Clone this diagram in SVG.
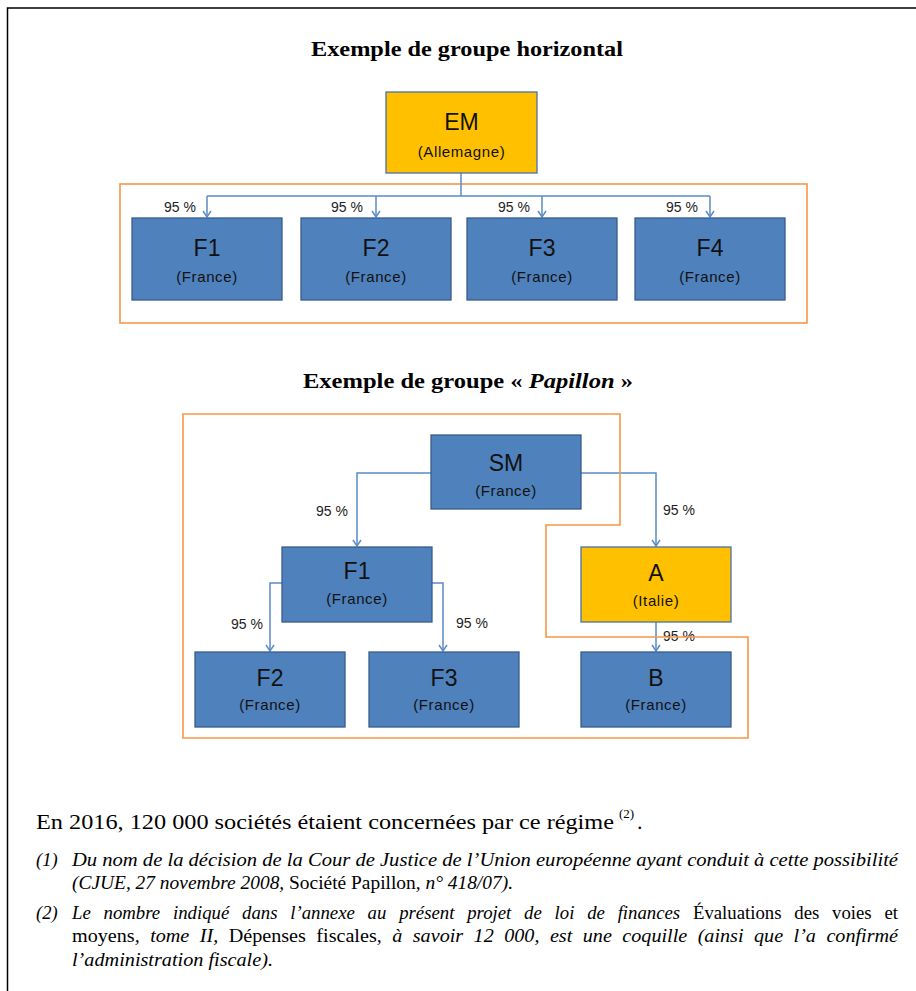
<svg xmlns="http://www.w3.org/2000/svg" width="916" height="991" viewBox="0 0 916 991">
<defs>
<style>
.blue{fill:#4F81BD;stroke:#385D8A;stroke-width:1.3}
.gold{fill:#FFC000;stroke:#4A72A8;stroke-width:1.3}
.name{font-family:"Liberation Sans",Arial,sans-serif;font-size:23px;fill:#111;text-anchor:middle}
.sub{font-family:"Liberation Sans",Arial,sans-serif;font-size:15px;letter-spacing:0.6px;fill:#111;text-anchor:middle}
.pct{font-family:"Liberation Sans",Arial,sans-serif;font-size:14px;fill:#222}
.conn{fill:none;stroke:#5B8BC6;stroke-width:1.5}
.frame{fill:none;stroke:#F79646;stroke-width:1.6}
.title{font-family:"Liberation Serif","Times New Roman",serif;font-weight:bold;font-size:22px;fill:#000;text-anchor:start}
.body{font-family:"Liberation Serif","Times New Roman",serif;font-size:22px;fill:#000}
.sup{font-family:"Liberation Serif","Times New Roman",serif;font-size:13px;fill:#000}
.note{font-family:"Liberation Serif","Times New Roman",serif;font-size:18.5px;font-style:italic;fill:#000}
.rom{font-style:normal}
</style>
<marker id="arr" markerWidth="10" markerHeight="10" refX="8" refY="5" orient="auto" markerUnits="userSpaceOnUse">
<path d="M2,1 L8,5 L2,9" fill="none" stroke="#5B8BC6" stroke-width="1.5"/>
</marker>
</defs>
<rect width="916" height="991" fill="#fff"/>
<path d="M916,8 H7.5 V991" fill="none" stroke="#000" stroke-width="1.5"/>

<text class="title" x="311" y="56" textLength="312" lengthAdjust="spacingAndGlyphs">Exemple de groupe horizontal</text>

<rect class="frame" x="120" y="184" width="687" height="139"/>

<g id="connectors-horizontal">
<path class="conn" d="M461,173 V196"/>
<path class="conn" d="M207,196 H710"/>
<path class="conn" d="M207,196 V217" marker-end="url(#arr)"/>
<path class="conn" d="M376,196 V217" marker-end="url(#arr)"/>
<path class="conn" d="M542,196 V217" marker-end="url(#arr)"/>
<path class="conn" d="M710,196 V217" marker-end="url(#arr)"/>
<text class="pct" x="164" y="212">95 %</text>
<text class="pct" x="331" y="212">95 %</text>
<text class="pct" x="498" y="212">95 %</text>
<text class="pct" x="666" y="212">95 %</text>
</g>

<g id="node-EM">
<rect class="gold" x="386" y="92" width="151" height="81"/>
<text class="name" x="461.5" y="130">EM</text>
<text class="sub" x="461.5" y="157">(Allemagne)</text>
</g>
<g id="node-H-F1">
<rect class="blue" x="132" y="218" width="150" height="82"/>
<text class="name" x="207" y="256">F1</text>
<text class="sub" x="207" y="282">(France)</text>
</g>
<g id="node-H-F2">
<rect class="blue" x="301" y="218" width="150" height="82"/>
<text class="name" x="376" y="256">F2</text>
<text class="sub" x="376" y="282">(France)</text>
</g>
<g id="node-H-F3">
<rect class="blue" x="467" y="218" width="150" height="82"/>
<text class="name" x="542" y="256">F3</text>
<text class="sub" x="542" y="282">(France)</text>
</g>
<g id="node-H-F4">
<rect class="blue" x="635" y="218" width="150" height="82"/>
<text class="name" x="710" y="256">F4</text>
<text class="sub" x="710" y="282">(France)</text>
</g>

<text class="title" x="303" y="388" textLength="330" lengthAdjust="spacingAndGlyphs">Exemple de groupe « <tspan font-style="italic">Papillon</tspan> »</text>

<g id="connectors-papillon">
<path class="conn" d="M431,473 H357 V546" marker-end="url(#arr)"/>
<path class="conn" d="M581,473 H656 V546" marker-end="url(#arr)"/>
<path class="conn" d="M282,583 H270 V651" marker-end="url(#arr)"/>
<path class="conn" d="M432,583 H443 V651" marker-end="url(#arr)"/>
<path class="conn" d="M656,622 V651" marker-end="url(#arr)"/>
<text class="pct" x="316" y="516">95 %</text>
<text class="pct" x="663" y="515">95 %</text>
<text class="pct" x="231" y="629">95 %</text>
<text class="pct" x="456" y="628">95 %</text>
<text class="pct" x="663" y="641">95 %</text>
</g>

<path class="frame" d="M183,414 H620 V525 H546 V637 H748 V738 H183 Z"/>

<g id="node-SM">
<rect class="blue" x="431" y="435" width="150" height="74"/>
<text class="name" x="506" y="471">SM</text>
<text class="sub" x="506" y="496">(France)</text>
</g>
<g id="node-P-F1">
<rect class="blue" x="282" y="547" width="150" height="75"/>
<text class="name" x="357" y="579">F1</text>
<text class="sub" x="357" y="604">(France)</text>
</g>
<g id="node-A">
<rect class="gold" x="581" y="547" width="150" height="75"/>
<text class="name" x="656" y="581">A</text>
<text class="sub" x="656" y="606">(Italie)</text>
</g>
<g id="node-P-F2">
<rect class="blue" x="195" y="652" width="150" height="75"/>
<text class="name" x="270" y="686">F2</text>
<text class="sub" x="270" y="710">(France)</text>
</g>
<g id="node-P-F3">
<rect class="blue" x="369" y="652" width="150" height="75"/>
<text class="name" x="444" y="686">F3</text>
<text class="sub" x="444" y="710">(France)</text>
</g>
<g id="node-B">
<rect class="blue" x="581" y="652" width="150" height="75"/>
<text class="name" x="656" y="686">B</text>
<text class="sub" x="656" y="710">(France)</text>
</g>

<text class="body" x="36" y="829" textLength="578" lengthAdjust="spacingAndGlyphs">En 2016, 120 000 sociétés étaient concernées par ce régime</text>
<text class="sup" x="619" y="818">(2)</text>
<text class="body" x="637" y="829">.</text>

<text class="note" x="36" y="866">(1)</text>
<text class="note" x="72" y="866" textLength="826" lengthAdjust="spacingAndGlyphs">Du nom de la décision de la Cour de Justice de l’Union européenne ayant conduit à cette possibilité</text>
<text class="note" x="72" y="889" textLength="441" lengthAdjust="spacingAndGlyphs">(CJUE, 27 novembre 2008, <tspan class="rom">Société Papillon</tspan>, n° 418/07).</text>
<text class="note" x="36" y="919">(2)</text>
<text class="note" x="72" y="919" word-spacing="8" textLength="826" lengthAdjust="spacingAndGlyphs">Le nombre indiqué dans l’annexe au présent projet de loi de finances <tspan class="rom">Évaluations des voies et</tspan></text>
<text class="note" x="72" y="942" word-spacing="5" textLength="826" lengthAdjust="spacingAndGlyphs"><tspan class="rom">moyens</tspan>, tome II, <tspan class="rom">Dépenses fiscales</tspan>, à savoir 12 000, est une coquille (ainsi que l’a confirmé</text>
<text class="note" x="72" y="966" textLength="201" lengthAdjust="spacingAndGlyphs">l’administration fiscale).</text>
</svg>
